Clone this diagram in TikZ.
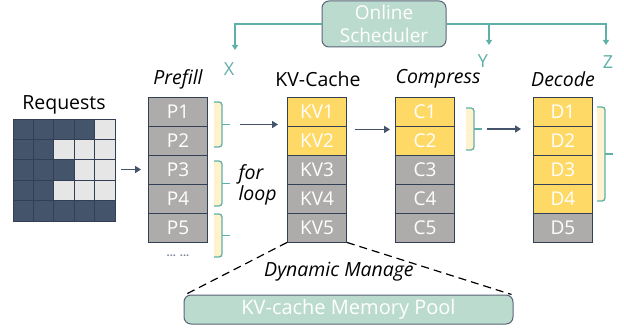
\documentclass[tikz,border=0pt]{standalone}
\usepackage{fontspec}
\setmainfont{Open Sans}
\usepackage{tikz}
\usetikzlibrary{arrows.meta}

\definecolor{navy}{HTML}{323F55}
\definecolor{slate}{HTML}{44546A}
\definecolor{lightcell}{HTML}{E7E6E6}
\definecolor{graycell}{HTML}{AEABAB}
\definecolor{goldcell}{HTML}{FFD966}
\definecolor{creamy}{HTML}{FFF2CC}
\definecolor{tealline}{HTML}{5FB0A8}
\definecolor{mint}{HTML}{BCDBCF}

\tikzset{
	cell/.style={draw=navy, line width=0.9pt, fill=graycell, text=white,
		minimum width=59pt, minimum height=29pt, inner sep=0pt, font=\fontsize{19}{21}\selectfont},
	hot/.style={cell, fill=goldcell},
	title/.style={font=\fontsize{19.5}{22}\selectfont},
	arr/.style={draw=slate, line width=1.6pt, -{Triangle[length=6pt,width=7pt]}},
	tarr/.style={draw=tealline, line width=1.4pt, -{Triangle[length=5pt,width=6pt]}},
	tlab/.style={text=tealline, font=\fontsize{18}{20}\selectfont},
	bubble/.style={draw=navy!80, line width=1pt, fill=mint, text=white, rounded corners=7pt,
		inner sep=0pt, font=\fontsize{20}{23}\selectfont},
}

\begin{document}
\begin{tikzpicture}[x=1pt,y=-1pt]
	\useasboundingbox (0,0) rectangle (624,329);

	% requests grid
	\fill[slate] (13,119) rectangle (115,221);
	\foreach \c/\r in {5/1,3/2,4/2,5/2,4/3,5/3,3/4,4/4,5/4}
		\fill[lightcell] ({13+20.4*(\c-1)},{119+20.4*(\r-1)}) rectangle ++(20.4,20.4);
	\foreach \k in {1,...,4} {
		\draw[navy, line width=1pt] ({13+20.4*\k},119) -- ({13+20.4*\k},221);
		\draw[navy, line width=1pt] (13,{119+20.4*\k}) -- (115,{119+20.4*\k});
	}
	\node[draw=navy, line width=1pt, minimum size=102pt, inner sep=0pt] (req) at (64,170) {};
	\node[title] (reqlab) at (64,105) {Requests};

	% columns
	\node[title] at (178,79) {\itshape Prefill};
	\node[title] at (318,79) {KV-Cache};
	\node[title] at (438,79) {\itshape Compress};
	\node[title] at (563,79) {\itshape Decode};
	\foreach \i in {1,...,5} \node[cell] (p\i) at (178,{111.5+29*(\i-1)}) {P\i};
	\foreach \i in {1,2} {
		\node[hot] (kv\i) at (317,{111.5+29*(\i-1)}) {KV\i};
		\node[hot] (c\i) at (425,{111.5+29*(\i-1)}) {C\i};
	}
	\foreach \i in {3,4,5} {
		\node[cell] (kv\i) at (317,{111.5+29*(\i-1)}) {KV\i};
		\node[cell] (c\i) at (425,{111.5+29*(\i-1)}) {C\i};
	}
	\foreach \i in {1,...,4} \node[hot] (d\i) at (563,{111.5+29*(\i-1)}) {D\i};
	\node[cell] (d5) at (563,227.5) {D5};
	\node[text=slate!70, font=\fontsize{11}{12}\selectfont] (dots) at (178,256) {\textbf{... ...}};

	% braces
	\foreach \x/\a/\b/\n in {214/102/147/b1, 214/161/206/b2, 214/214/257/b3, 466/108/150/b4, 597/107/201/b5} {
		\fill[creamy] (\x,\a) rectangle ({\x+8},\b);
		\draw[tealline, line width=1.3pt, rounded corners=3pt]
			(\x,\a) -- ({\x+8},\a) -- ({\x+8},{(\a+\b)/2}) -- ({\x+8},\b) -- (\x,\b);
		\draw[tealline, line width=1.3pt] ({\x+8},{(\a+\b)/2}) -- ({\x+16},{(\a+\b)/2});
		\coordinate (\n) at ({\x+16},{(\a+\b)/2});
	}
	\node[title, align=left, anchor=west] (loop) at (235,185) {\itshape for\\[-1pt]\itshape loop};

	% flow arrows
	\draw[arr] ([xshift=5pt]req.east |- p3) -- ([xshift=-7pt]p3.west);
	\draw[arr] ([xshift=10pt]b1) -- ([xshift=-9pt]kv1.west |- b1);
	\draw[arr] ([xshift=8pt,yshift=-3pt]kv1.south east) -- ([xshift=-5pt,yshift=-3pt]c1.south west);
	\draw[arr] ([xshift=5pt]b4) -- ([xshift=-12pt]d1.west |- b4);

	% scheduler
	\node[bubble, minimum width=124pt, minimum height=46pt, align=center,
		font=\fontsize{19}{23}\selectfont] (sched) at (384,24) {Online\\Scheduler};
	\coordinate (tx) at (235,50);
	\coordinate (ty) at (489,45);
	\coordinate (tz) at (606,45);
	\draw[tarr] (sched.west) -| (tx);
	\draw[tarr] (sched.east) -| (tz);
	\draw[tarr] (sched.east -| ty) -- (ty);
	\node[tlab] at (229,69) {X};
	\node[tlab] at (483,61) {Y};
	\node[tlab] at (608,62) {Z};

	% memory pool
	\node[bubble, minimum width=329pt, minimum height=29pt] (pool) at (348.5,309.5) {KV-cache Memory Pool};
	\draw[black, line width=1.2pt, dash pattern=on 8pt off 5pt] (kv5.south west) -- ([xshift=2pt]pool.north west);
	\draw[black, line width=1.2pt, dash pattern=on 8pt off 5pt] (kv5.south east) -- ([xshift=-2pt]pool.north east);
	\node[title] (manage) at (339,272) {\itshape Dynamic Manage};
\end{tikzpicture}
\end{document}
